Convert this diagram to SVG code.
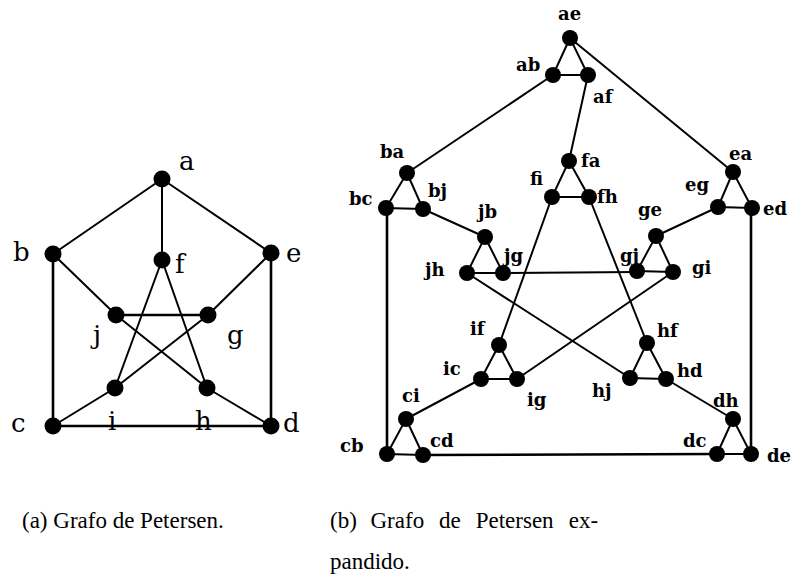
<svg xmlns="http://www.w3.org/2000/svg" width="800" height="579" viewBox="0 0 800 579">
<style>
.e{stroke:#000;stroke-width:2;fill:none;stroke-linecap:round}
.t{stroke-width:2.6}
.n{fill:#000}
.L{font-family:"DejaVu Serif",serif;font-size:26px;fill:#000}
.R{font-family:"DejaVu Serif",serif;font-size:18px;font-weight:bold;fill:#000}
.cap{font-family:"Liberation Serif",serif;font-size:23px;fill:#000}
</style>
<rect width="800" height="579" fill="#fff"/>
<g id="left-edges">
<line class="e" x1="162" y1="179" x2="53" y2="254"/>
<line class="e" x1="162" y1="179" x2="271" y2="253"/>
<line class="e" x1="162" y1="179" x2="162" y2="260"/>
<line class="e t" x1="53" y1="254" x2="53" y2="426"/>
<line class="e t" x1="271" y1="253" x2="271" y2="426"/>
<line class="e t" x1="53" y1="426" x2="271" y2="426"/>
<line class="e" x1="53" y1="254" x2="116" y2="315"/>
<line class="e" x1="271" y1="253" x2="208" y2="315"/>
<line class="e" x1="53" y1="426" x2="115" y2="388"/>
<line class="e" x1="271" y1="426" x2="207" y2="388"/>
<line class="e" x1="162" y1="260" x2="115" y2="388"/>
<line class="e" x1="162" y1="260" x2="207" y2="388"/>
<line class="e t" x1="116" y1="315" x2="208" y2="315"/>
<line class="e" x1="116" y1="315" x2="207" y2="388"/>
<line class="e" x1="208" y1="315" x2="115" y2="388"/>
</g>
<g id="left-a"><circle class="n" cx="162" cy="179" r="8.5"/><text class="L" x="179" y="170">a</text></g>
<g id="left-b"><circle class="n" cx="53" cy="254" r="8.5"/><text class="L" x="13" y="261">b</text></g>
<g id="left-e"><circle class="n" cx="271" cy="253" r="8.5"/><text class="L" x="286" y="262">e</text></g>
<g id="left-f"><circle class="n" cx="162" cy="260" r="8.5"/><text class="L" x="175" y="273">f</text></g>
<g id="left-j"><circle class="n" cx="116" cy="315" r="8.5"/><text class="L" x="93" y="344">j</text></g>
<g id="left-g"><circle class="n" cx="208" cy="315" r="8.5"/><text class="L" x="227" y="344">g</text></g>
<g id="left-i"><circle class="n" cx="115" cy="388" r="8.5"/><text class="L" x="108" y="430">i</text></g>
<g id="left-h"><circle class="n" cx="207" cy="388" r="8.5"/><text class="L" x="195" y="430">h</text></g>
<g id="left-c"><circle class="n" cx="53" cy="426" r="8.5"/><text class="L" x="11" y="432">c</text></g>
<g id="left-d"><circle class="n" cx="271" cy="426" r="8.5"/><text class="L" x="283" y="432">d</text></g>

<g id="right-edges">
<path class="e" d="M570,38 L553,75 L588,75 Z"/>
<path class="e" d="M407,173 L386,208 L423,209 Z"/>
<path class="e" d="M569,161 L552,197 L589,197 Z"/>
<path class="e" d="M733,172 L718,207 L752,208 Z"/>
<path class="e" d="M485,237 L467,273 L503,273 Z"/>
<path class="e" d="M656,236 L637,271 L673,272 Z"/>
<path class="e" d="M499,345 L481,379 L517,379 Z"/>
<path class="e" d="M647,343 L630,378 L666,379 Z"/>
<path class="e" d="M406,419 L387,454 L423,455 Z"/>
<path class="e" d="M733,419 L717,454 L751,454 Z"/>
<line class="e" x1="553" y1="75" x2="407" y2="173"/>
<line class="e" x1="570" y1="38" x2="733" y2="172"/>
<line class="e" x1="588" y1="75" x2="569" y2="161"/>
<line class="e t" x1="387" y1="208" x2="387" y2="454"/>
<line class="e" x1="423" y1="209" x2="485" y2="237"/>
<line class="e" x1="552" y1="197" x2="499" y2="345"/>
<line class="e" x1="589" y1="197" x2="647" y2="343"/>
<line class="e" x1="718" y1="207" x2="656" y2="236"/>
<line class="e t" x1="751" y1="208" x2="751" y2="454"/>
<line class="e" x1="467" y1="273" x2="630" y2="378"/>
<line class="e" x1="503" y1="273" x2="637" y2="272"/>
<line class="e" x1="673" y1="272" x2="517" y2="379"/>
<line class="e" x1="481" y1="379" x2="406" y2="419"/>
<line class="e" x1="666" y1="379" x2="733" y2="419"/>
<line class="e t" x1="423" y1="455" x2="717" y2="454"/>
</g>
<g id="ae"><circle class="n" cx="570" cy="38" r="8"/><text class="R" x="558" y="20">ae</text></g>
<g id="ab"><circle class="n" cx="553" cy="75" r="8"/><text class="R" x="516" y="71">ab</text></g>
<g id="af"><circle class="n" cx="588" cy="75" r="8"/><text class="R" x="593" y="103">af</text></g>
<g id="ba"><circle class="n" cx="407" cy="173" r="8"/><text class="R" x="380" y="158">ba</text></g>
<g id="bc"><circle class="n" cx="386" cy="208" r="8"/><text class="R" x="349" y="205">bc</text></g>
<g id="bj"><circle class="n" cx="423" cy="209" r="8"/><text class="R" x="428" y="197">bj</text></g>
<g id="fa"><circle class="n" cx="569" cy="161" r="8"/><text class="R" x="581" y="167">fa</text></g>
<g id="fi"><circle class="n" cx="552" cy="197" r="8"/><text class="R" x="530" y="185">fi</text></g>
<g id="fh"><circle class="n" cx="589" cy="197" r="8"/><text class="R" x="597" y="203">fh</text></g>
<g id="ea"><circle class="n" cx="733" cy="172" r="8"/><text class="R" x="729" y="160">ea</text></g>
<g id="eg"><circle class="n" cx="718" cy="207" r="8"/><text class="R" x="685" y="191">eg</text></g>
<g id="ed"><circle class="n" cx="752" cy="208" r="8"/><text class="R" x="763" y="215">ed</text></g>
<g id="jb"><circle class="n" cx="485" cy="237" r="8"/><text class="R" x="478" y="218">jb</text></g>
<g id="jh"><circle class="n" cx="467" cy="273" r="8"/><text class="R" x="425" y="276">jh</text></g>
<g id="jg"><circle class="n" cx="503" cy="273" r="8"/><text class="R" x="504" y="262">jg</text></g>
<g id="ge"><circle class="n" cx="656" cy="236" r="8"/><text class="R" x="638" y="216">ge</text></g>
<g id="gj"><circle class="n" cx="637" cy="271" r="8"/><text class="R" x="620" y="262">gj</text></g>
<g id="gi"><circle class="n" cx="673" cy="272" r="8"/><text class="R" x="692" y="274">gi</text></g>
<g id="if"><circle class="n" cx="499" cy="345" r="8"/><text class="R" x="470" y="335">if</text></g>
<g id="ic"><circle class="n" cx="481" cy="379" r="8"/><text class="R" x="443" y="375">ic</text></g>
<g id="ig"><circle class="n" cx="517" cy="379" r="8"/><text class="R" x="527" y="406">ig</text></g>
<g id="hf"><circle class="n" cx="647" cy="343" r="8"/><text class="R" x="657" y="337">hf</text></g>
<g id="hj"><circle class="n" cx="630" cy="378" r="8"/><text class="R" x="592" y="397">hj</text></g>
<g id="hd"><circle class="n" cx="666" cy="379" r="8"/><text class="R" x="677" y="377">hd</text></g>
<g id="ci"><circle class="n" cx="406" cy="419" r="8"/><text class="R" x="402" y="402">ci</text></g>
<g id="cb"><circle class="n" cx="387" cy="454" r="8"/><text class="R" x="340" y="452">cb</text></g>
<g id="cd"><circle class="n" cx="423" cy="455" r="8"/><text class="R" x="430" y="447">cd</text></g>
<g id="dh"><circle class="n" cx="733" cy="419" r="8"/><text class="R" x="713" y="407">dh</text></g>
<g id="dc"><circle class="n" cx="717" cy="454" r="8"/><text class="R" x="683" y="447">dc</text></g>
<g id="de"><circle class="n" cx="751" cy="454" r="8"/><text class="R" x="767" y="462">de</text></g>

<g id="captions">
<text class="cap" x="22" y="528">(a) Grafo de Petersen.</text>
<text class="cap" y="528"><tspan x="330">(b)</tspan><tspan x="370.5">Grafo</tspan><tspan x="439">de</tspan><tspan x="475.7">Petersen</tspan><tspan x="568.7">ex-</tspan></text>
<text class="cap" x="330" y="569">pandido.</text>
</g>
</svg>
